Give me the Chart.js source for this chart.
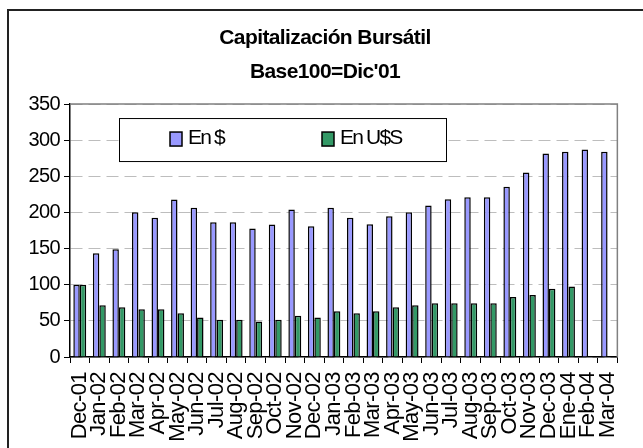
<!DOCTYPE html>
<html>
<head>
<meta charset="utf-8">
<script src="https://cdn.jsdelivr.net/npm/chart.js@4/dist/chart.umd.min.js"></script>
<style>
  html, body { margin: 0; padding: 0; background: #fff; overflow: hidden; }
  #wrap { position: relative; width: 643px; height: 448px; }
  #frame { position: absolute; left: 7px; top: 9px; width: 700px; height: 500px; border: 2px solid #222; box-sizing: border-box; }
  canvas { position: absolute; left: 0; top: 0; }
</style>
</head>
<body>
<div id="wrap">
  <div id="frame"></div>
  <canvas id="chart" width="643" height="448"></canvas>
</div>
<script>
const FONT = "'Liberation Sans', Arial, sans-serif";

const titleLines = ['Capitalización Bursátil', "Base100=Dic'01"];
const categories = [
    'Dec-01', 'Jan-02', 'Feb-02', 'Mar-02', 'Apr-02', 'May-02', 'Jun-02', 'Jul-02', 'Aug-02',
    'Sep-02', 'Oct-02', 'Nov-02', 'Dec-02', 'Jan-03', 'Feb-03', 'Mar-03', 'Apr-03', 'May-03',
    'Jun-03', 'Jul-03', 'Aug-03', 'Sep-03', 'Oct-03', 'Nov-03', 'Dec-03', 'Ene-04', 'Feb-04', 'Mar-04'
];
const enPesos = [
    100, 143.6, 149, 200.4, 192.5, 218, 206.4, 186.5, 186.5, 177.7, 183.3, 204, 181,
    206.4, 192.5, 183.7, 194.8, 200.4, 209.6, 218.4, 221.1, 221.1, 235.5, 255.3, 281.6,
    284, 287, 284
];
const enDolares = [
    100, 71.6, 68.8, 66, 66, 60.5, 54.5, 51.7, 51.7, 49, 51.7, 57.2, 54.5,
    63.2, 60.5, 63.2, 68.8, 71.6, 74.3, 74.3, 74.3, 74.3, 83.1, 85.9, 94.6,
    97.4, null, null
];
const seriesNames = ['En $', 'En U$S'];
const seriesColors = ['#9999FF', '#339966'];
const yTicks = [0, 50, 100, 150, 200, 250, 300, 350];

// Excel-ish condensed lettering for every text drawn on the canvas
const tightText = {
    id: 'tightText',
    beforeDraw(chart) { chart.ctx.letterSpacing = '-0.6px'; }
};

// plot frame (top + right edge in gray) and the boxed legend inside the plot
const framePlugin = {
    id: 'plotFrame',
    afterDraw(chart) {
        const { ctx, chartArea: a } = chart;
        ctx.save();
        ctx.strokeStyle = '#808080';
        ctx.lineWidth = 1.5;
        ctx.beginPath();
        ctx.moveTo(a.left, a.top);
        ctx.lineTo(a.right, a.top);
        ctx.lineTo(a.right, a.bottom);
        ctx.stroke();

        // legend box
        const bx = a.left + 49, by = a.top + 14, bw = 327, bh = 43;
        ctx.fillStyle = '#fff';
        ctx.fillRect(bx, by, bw, bh);
        ctx.strokeStyle = '#000';
        ctx.lineWidth = 1;
        ctx.strokeRect(bx + 0.5, by + 0.5, bw, bh);

        const itemX = [bx + 51, bx + 203];
        ctx.font = '21px ' + FONT;
        ctx.textBaseline = 'middle';
        ctx.textAlign = 'left';
        ctx.letterSpacing = '-1.8px';
        chart.data.datasets.forEach((ds, i) => {
            const sx = itemX[i], sy = by + 14;
            ctx.fillStyle = ds.backgroundColor;
            ctx.fillRect(sx, sy, 12, 14);
            ctx.strokeStyle = '#000';
            ctx.lineWidth = 1.5;
            ctx.strokeRect(sx, sy, 12, 14);
            ctx.fillStyle = '#000';
            ctx.fillText(ds.label, sx + 18, sy + 6);
        });
        ctx.restore();
    }
};

const ctx = document.getElementById('chart').getContext('2d');
const chart = new Chart(ctx, {
    type: 'bar',
    data: {
        labels: categories,
        datasets: [enPesos, enDolares].map((values, i) => ({
            label: seriesNames[i],
            data: values,
            backgroundColor: seriesColors[i],
            borderColor: '#000',
            borderWidth: 1.5,
            borderSkipped: 'bottom',
            categoryPercentage: 0.66,
            barPercentage: 1
        }))
    },
    options: {
        responsive: false,
        animation: false,
        layout: { padding: { top: 10, left: 8, right: 1, bottom: 0 } },
        plugins: {
            legend: { display: false },
            tooltip: { enabled: false },
            title: {
                display: true,
                text: titleLines,
                color: '#000',
                font: { family: FONT, size: 21, weight: 'bold', lineHeight: 1.62 },
                padding: { top: 11, bottom: 15 }
            }
        },
        scales: {
            x: {
                grid: { offset: true, drawOnChartArea: false, tickLength: 6, tickColor: '#000', tickWidth: 1 },
                border: { color: '#000', width: 1.5 },
                ticks: {
                    color: '#000', autoSkip: false, minRotation: 90, maxRotation: 90, padding: 9,
                    font: { family: FONT, size: 22 }
                },
                afterFit(scale) { scale.height = 91; }
            },
            y: {
                min: 0,
                max: 350,
                afterBuildTicks(scale) { scale.ticks = yTicks.map(v => ({ value: v })); },
                grid: { color: '#bdbdbd', lineWidth: 1, tickLength: 6, tickColor: '#000', tickWidth: 1 },
                border: { color: '#000', width: 1.5, dash: [12, 6] },
                ticks: { color: '#000', padding: 4, font: { family: FONT, size: 20 } },
                afterFit(scale) { scale.width = 62; }
            }
        }
    },
    plugins: [tightText, framePlugin]
});
</script>
</body>
</html>
